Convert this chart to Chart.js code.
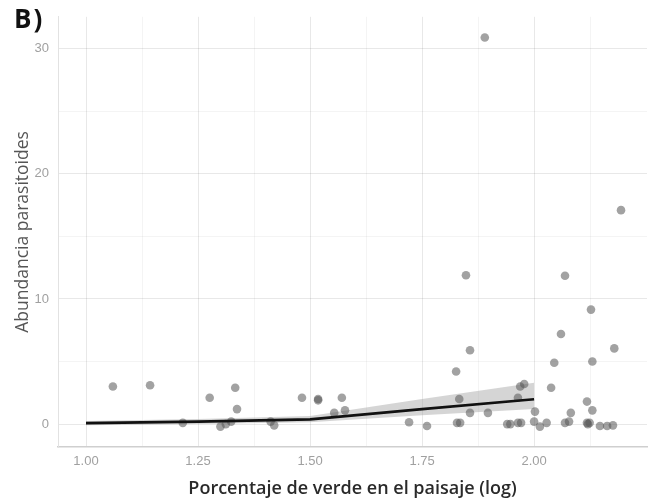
<!DOCTYPE html>
<html lang="es">
<head>
<meta charset="UTF-8">
<title>Abundancia parasitoides</title>
<style>
  body { margin: 0; background: #fff; }
  #wrap { position: relative; width: 659px; height: 500px; }
  #panelLabel {
    position: absolute; left: 14px; top: 0px;
    font: bold 26px "Open Sans", sans-serif; color: #111; letter-spacing: 2px;
  }
</style>
</head>
<body>
<div id="wrap">
  <canvas id="chart"></canvas>
  <div id="panelLabel">B)</div>
</div>

<script src="https://cdn.jsdelivr.net/npm/chart.js"></script>
<script>
// observed points (log % green, parasitoid abundance)
const pointX = [1.06, 1.143, 1.216, 1.276, 1.30, 1.312, 1.324, 1.333, 1.337, 1.412,
                1.42, 1.482, 1.518, 1.518, 1.554, 1.571, 1.578, 1.721, 1.761, 1.826,
                1.833, 1.828, 1.835, 1.848, 1.857, 1.857, 1.89, 1.897, 1.94, 1.947,
                1.964, 1.971, 1.964, 1.969, 1.978, 2.002, 2.0, 2.013, 2.028, 2.038,
                2.045, 2.06, 2.069, 2.069, 2.078, 2.082, 2.118, 2.118, 2.12, 2.124,
                2.127, 2.13, 2.13, 2.147, 2.163, 2.176, 2.179, 2.194];
const pointY = [3.0, 3.1, 0.1, 2.1, -0.2, 0.0, 0.2, 2.9, 1.2, 0.2,
                -0.1, 2.1, 1.9, 2.0, 0.9, 2.1, 1.1, 0.15, -0.15, 4.2,
                2.0, 0.1, 0.1, 11.9, 5.9, 0.9, 30.9, 0.9, 0.0, 0.0,
                0.1, 0.1, 2.1, 3.0, 3.2, 1.0, 0.2, -0.2, 0.1, 2.9,
                4.9, 7.2, 11.85, 0.1, 0.2, 0.9, 1.8, 0.1, 0.0, 0.1,
                9.15, 5.0, 1.1, -0.15, -0.15, -0.1, 6.05, 17.1];

// fitted line and confidence band
const fitX = [1.00, 1.25, 1.50, 1.75, 2.00];
const fitY = [0.08, 0.2, 0.38, 1.2, 1.98];
const fitLower = [-0.1, 0.0, 0.15, 0.7, 1.2];
const fitUpper = [0.25, 0.4, 0.65, 2.0, 3.3];

// axis ticks
const xMajor = [1.00, 1.25, 1.50, 1.75, 2.00];
const xMinor = [1.125, 1.375, 1.625, 1.875, 2.125];
const yMajor = [0, 10, 20, 30];
const yMinor = [5, 15, 25];

const toXY = (xs, ys) => xs.map((x, i) => ({ x: x, y: ys[i] }));
const isMajor = (list, v) => list.some(m => Math.abs(m - v) < 1e-9);

const ctx = document.getElementById('chart').getContext('2d');
const chart = new Chart(ctx, {
    type: 'scatter',
    data: {
        datasets: [
            {
                label: 'lower',
                data: toXY(fitX, fitLower),
                showLine: true,
                borderWidth: 0,
                borderColor: 'rgba(0,0,0,0)',
                pointRadius: 0,
                fill: false,
                order: 3
            },
            {
                label: 'upper',
                data: toXY(fitX, fitUpper),
                showLine: true,
                borderWidth: 0,
                borderColor: 'rgba(0,0,0,0)',
                backgroundColor: 'rgba(150,150,150,0.4)',
                pointRadius: 0,
                fill: '-1',
                order: 2
            },
            {
                label: 'obs',
                data: toXY(pointX, pointY),
                pointRadius: 4.3,
                pointBorderWidth: 0,
                backgroundColor: 'rgba(85,85,85,0.55)',
                borderColor: 'rgba(0,0,0,0)',
                order: 1
            },
            {
                label: 'fit',
                data: toXY(fitX, fitY),
                showLine: true,
                borderColor: '#111',
                borderWidth: 2.6,
                pointRadius: 0,
                tension: 0,
                order: 0
            }
        ]
    },
    options: {
        responsive: true,
        maintainAspectRatio: false,
        animation: false,
        layout: { padding: { top: 15, right: 12, left: 0, bottom: 0 } },
        plugins: {
            legend: { display: false },
            tooltip: { enabled: false }
        },
        scales: {
            x: {
                type: 'linear',
                min: 0.9375,
                max: 2.252,
                afterBuildTicks: axis => {
                    axis.ticks = xMajor.concat(xMinor).sort((a, b) => a - b).map(v => ({ value: v }));
                },
                afterFit: axis => { axis.height = 53; },
                ticks: {
                    autoSkip: false,
                    maxRotation: 0,
                    padding: 7,
                    color: '#a0a0a0',
                    font: { family: '"Liberation Sans Narrow", "Liberation Sans", sans-serif', size: 13 },
                    callback: v => isMajor(xMajor, v) ? v.toFixed(2) : ''
                },
                grid: {
                    drawTicks: false,
                    color: c => isMajor(xMajor, c.tick.value) ? 'rgba(0,0,0,0.09)' : 'rgba(0,0,0,0.045)'
                },
                border: { display: true, color: '#cfcfcf', width: 1.5 },
                title: {
                    display: true,
                    text: 'Porcentaje de verde en el paisaje (log)',
                    color: '#2a2a2a',
                    font: { family: '"Open Sans", sans-serif', size: 18, weight: '600' },
                    padding: { top: 0, bottom: 0 }
                }
            },
            y: {
                type: 'linear',
                min: -1.83,
                max: 32.55,
                afterBuildTicks: axis => {
                    axis.ticks = yMajor.concat(yMinor).sort((a, b) => a - b).map(v => ({ value: v }));
                },
                afterFit: axis => { axis.width = 58; },
                ticks: {
                    autoSkip: false,
                    padding: 9,
                    color: '#a0a0a0',
                    font: { family: '"Liberation Sans Narrow", "Liberation Sans", sans-serif', size: 13 },
                    callback: v => isMajor(yMajor, v) ? String(v) : ''
                },
                grid: {
                    drawTicks: false,
                    color: c => isMajor(yMajor, c.tick.value) ? 'rgba(0,0,0,0.09)' : 'rgba(0,0,0,0.045)'
                },
                border: { display: true, color: '#e2e2e2', width: 1 },
                title: {
                    display: true,
                    text: 'Abundancia parasitoides',
                    color: '#555',
                    font: { family: '"Open Sans", sans-serif', size: 17.5 },
                    padding: { top: 13, bottom: 0 }
                }
            }
        }
    }
});
</script>
</body>
</html>
